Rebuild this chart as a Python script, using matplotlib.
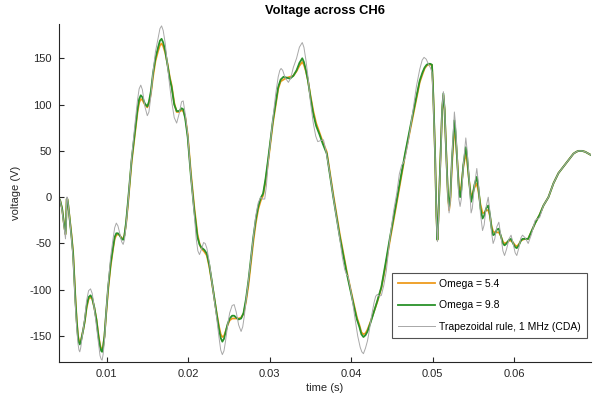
import numpy as np
import matplotlib
matplotlib.use("Agg")
import matplotlib.pyplot as plt

plt.rcParams['font.family'] = ['Liberation Sans', 'DejaVu Sans']
plt.rcParams['axes.unicode_minus'] = False

# time axis (ms) shared by the two Omega runs
t_ms = [4.06, 4.3, 4.55, 4.8, 4.97, 5.05, 5.12, 5.2, 5.3, 5.5,
        5.7, 5.9, 6.05, 6.2, 6.35, 6.5, 6.62, 6.72, 6.83, 6.95,
        7.15, 7.34, 7.55, 7.8, 8.04, 8.25, 8.5, 8.77, 9.0, 9.2,
        9.35, 9.46, 9.58, 9.75, 9.95, 10.2, 10.5, 10.8, 11.0, 11.2,
        11.4, 11.6, 11.85, 12.04, 12.2, 12.4, 12.65, 13.07, 13.5, 13.8,
        14.0, 14.2, 14.4, 14.7, 15.0, 15.2, 15.45, 15.7, 16.0, 16.33,
        16.55, 16.75, 16.95, 17.2, 17.5, 17.75, 17.98, 18.3, 18.6, 18.9,
        19.2, 19.4, 19.65, 19.95, 20.35, 20.75, 21.15, 21.4, 21.6, 22.0,
        22.3, 22.6, 22.9, 23.2, 23.5, 23.8, 24.0, 24.2, 24.4, 24.6,
        24.85, 25.1, 25.4, 25.65, 25.9, 26.2, 26.5, 26.8, 27.1, 27.4,
        28.0, 28.3, 28.6, 28.9, 29.2, 29.5, 29.8, 30.4, 31.05, 31.35,
        31.7, 32.1, 32.5, 32.9, 33.3, 33.65, 34.0, 34.2, 34.45, 34.7,
        35.0, 35.35, 35.7, 36.1, 36.5, 37.0, 37.8, 38.6, 39.45, 40.26,
        40.7, 41.0, 41.25, 41.5, 41.75, 42.0, 42.35, 42.7, 43.2, 43.7,
        44.2, 44.76, 45.4, 46.0, 46.6, 47.4, 48.4, 48.75, 49.0, 49.25,
        49.46, 49.7, 49.9, 50.0, 50.1, 50.28, 50.45, 50.57, 50.68, 50.8,
        50.98, 51.15, 51.3, 51.45, 51.65, 51.85, 52.0, 52.15, 52.35, 52.65,
        52.8, 53.0, 53.2, 53.35, 53.5, 53.75, 54.05, 54.2, 54.45, 54.7,
        54.85, 55.1, 55.4, 55.6, 55.85, 56.1, 56.3, 56.55, 56.8, 57.0,
        57.2, 57.4, 57.6, 57.85, 58.1, 58.35, 58.6, 58.8, 59.05, 59.35,
        59.6, 59.85, 60.1, 60.3, 60.55, 60.8, 61.0, 61.35, 61.7, 62.1,
        62.55, 63.1, 63.57, 64.18, 64.8, 65.41, 66.02, 66.64, 67.25, 67.6,
        67.87, 68.3, 68.69, 69.1, 69.5]

# Omega = 9.8 (green)
v_w98 = [0, -3, -12, -30, -40, -25, -2, -2, -8, -25,
         -42, -61, -88, -114, -135, -151, -157, -159, -157, -152,
         -143, -133, -118, -108, -106, -109, -119, -133, -150, -161,
         -166, -167, -162, -150, -125, -97, -72, -54, -43, -39,
         -39, -41, -45, -46, -41, -27, -3, 40, 72, 95,
         106, 110, 108, 101, 98, 103, 115, 134, 150, 162,
         169, 171, 167, 158, 142, 128, 119, 100, 93, 93,
         96, 95, 85, 65, 22, -14, -43, -51, -54, -57,
         -61, -73, -90, -108, -126, -143, -152, -156, -153, -146,
         -137, -131, -128, -128, -130, -132, -131, -125, -110, -90,
         -43, -24, -10, -1, 4, 20, 40, 83, 119, 127,
         130, 129, 128, 131, 137, 145, 150, 146, 137, 126,
         108, 90, 77, 68, 58, 47, 0, -43, -82, -115,
         -132, -140, -148, -151, -149, -145, -136, -126, -112, -97,
         -72, -43, -12, 18, 47, 83, 126, 135, 140, 143,
         144, 144, 143, 125, 100, 47, -20, -46, -25, 5,
         47, 95, 112, 95, 47, 5, -10, 0, 40, 83,
         70, 40, 8, 0, 8, 35, 54, 45, 18, -5,
         0, 13, 22, 10, -12, -23, -20, -12, -9, -18,
         -33, -41, -40, -35, -34, -42, -50, -52, -50, -46,
         -45, -50, -54, -55, -52, -47, -45, -45, -45, -37,
         -28, -19, -9, 0, 15, 26, 33, 40, 47, 49,
         50, 50, 49, 47, 45]

# Omega = 5.4 (orange)
v_w54 = [0, -3, -12, -30, -40, -25, -2, -2, -8, -24,
         -40, -59, -85, -111, -133, -149, -155, -157, -156, -151,
         -143, -134, -120, -110, -108, -110, -119, -132, -148, -159,
         -164, -165, -161, -150, -127, -100, -75, -56, -45, -41,
         -40, -41, -44, -45, -41, -29, -6, 37, 70, 92,
         102, 106, 105, 100, 97, 101, 112, 130, 147, 158,
         164, 166, 163, 156, 143, 130, 121, 102, 92, 92,
         94, 93, 87, 68, 26, -10, -40, -50, -55, -59,
         -63, -75, -91, -108, -125, -140, -148, -151, -150, -145,
         -138, -133, -131, -131, -131, -131, -130, -126, -113, -95,
         -48, -28, -13, -4, 2, 17, 37, 80, 117, 125,
         127, 129, 130, 131, 136, 142, 146, 143, 136, 126,
         110, 93, 80, 70, 60, 49, 3, -40, -80, -113,
         -130, -138, -146, -148, -147, -143, -135, -126, -113, -98,
         -75, -46, -15, 15, 45, 80, 124, 133, 139, 142,
         143, 143, 143, 125, 100, 47, -20, -46, -25, 5,
         47, 94, 110, 94, 47, 3, -14, -4, 35, 75,
         64, 40, 12, 7, 12, 33, 47, 40, 18, 0,
         3, 10, 15, 6, -8, -17, -17, -14, -14, -20,
         -31, -37, -38, -38, -38, -42, -48, -50, -49, -47,
         -47, -49, -52, -53, -51, -47, -46, -45, -45, -37,
         -28, -19, -9, 0, 15, 26, 33, 40, 47, 49,
         50, 50, 49, 47, 45]

# trapezoidal rule reference, 1 MHz (gray)
tg_ms = [4.06, 4.3, 4.55, 4.8, 4.97, 5.05, 5.12, 5.2, 5.3, 5.5,
         5.7, 5.9, 6.05, 6.2, 6.35, 6.5, 6.62, 6.72, 6.83, 6.95,
         7.15, 7.34, 7.55, 7.8, 8.04, 8.25, 8.5, 8.77, 9.0, 9.2,
         9.35, 9.46, 9.58, 9.75, 9.95, 10.2, 10.5, 10.8, 11.0, 11.2,
         11.4, 11.6, 11.85, 12.04, 12.2, 12.4, 12.65, 13.07, 13.5, 13.8,
         14.0, 14.2, 14.4, 14.7, 15.0, 15.2, 15.45, 15.7, 16.0, 16.33,
         16.55, 16.75, 16.95, 17.2, 17.5, 17.75, 17.98, 18.3, 18.6, 18.9,
         19.2, 19.4, 19.65, 19.95, 20.35, 20.75, 21.0, 21.2, 21.4, 21.65,
         21.9, 22.1, 22.3, 22.6, 22.9, 23.2, 23.5, 23.8, 24.0, 24.2,
         24.4, 24.6, 24.85, 25.1, 25.4, 25.65, 25.9, 26.2, 26.5, 26.7,
         26.9, 27.1, 27.4, 28.0, 28.3, 28.6, 28.9, 29.15, 29.4, 29.6,
         29.8, 30.4, 30.75, 31.05, 31.25, 31.4, 31.6, 31.9, 32.3, 32.6,
         32.9, 33.3, 33.65, 34.0, 34.2, 34.45, 34.7, 35.0, 35.35, 35.65,
         35.9, 36.2, 36.6, 36.9, 37.3, 37.8, 38.6, 38.9, 39.2, 39.45,
         39.6, 39.9, 40.2, 40.5, 40.8, 41.1, 41.3, 41.5, 41.75, 42.0,
         42.2, 42.5, 42.8, 43.0, 43.2, 43.45, 43.7, 44.0, 44.3, 44.76,
         45.2, 45.6, 45.9, 46.2, 46.4, 46.6, 47.0, 47.4, 48.0, 48.4,
         48.7, 48.93, 49.2, 49.5, 49.7, 49.9, 50.0, 50.1, 50.28, 50.45,
         50.57, 50.68, 50.8, 50.98, 51.15, 51.3, 51.45, 51.65, 51.85, 52.0,
         52.15, 52.35, 52.65, 52.8, 53.0, 53.2, 53.35, 53.5, 53.75, 54.05,
         54.2, 54.45, 54.7, 54.85, 55.1, 55.4, 55.6, 55.85, 56.1, 56.3,
         56.55, 56.8, 57.0, 57.2, 57.4, 57.6, 57.85, 58.1, 58.35, 58.6,
         58.8, 59.05, 59.35, 59.6, 59.85, 60.1, 60.3, 60.55, 60.8, 61.0,
         61.35, 61.7, 62.1, 62.55, 63.1, 63.57, 64.18, 64.8, 65.41, 66.02,
         66.64, 67.25, 67.6, 67.87, 68.3, 68.69, 69.1, 69.5]

v_trap = [2, -3, -14, -33, -45, -28, 0, 0, -8, -25,
          -44, -65, -92, -120, -142, -158, -165, -167, -163, -155,
          -142, -130, -112, -101, -99, -104, -120, -140, -158, -171,
          -175, -176, -170, -155, -125, -95, -65, -45, -33, -28,
          -31, -38, -48, -51, -46, -30, -5, 42, 80, 105,
          117, 121, 116, 98, 88, 92, 110, 135, 157, 172,
          182, 185, 180, 166, 140, 120, 104, 86, 80, 90,
          103, 104, 90, 68, 22, -18, -45, -58, -62, -56,
          -49, -50, -55, -70, -90, -110, -130, -152, -165, -170,
          -166, -155, -138, -125, -117, -116, -124, -138, -145, -140,
          -128, -112, -90, -43, -20, -6, 0, -2, -2, 12,
          35, 85, 112, 130, 137, 139, 137, 129, 124, 129,
          140, 150, 162, 167, 162, 148, 130, 103, 80, 66,
          60, 61, 62, 50, 30, 0, -45, -64, -78, -84,
          -85, -98, -115, -133, -150, -162, -167, -169, -163, -155,
          -145, -128, -114, -107, -105, -107, -106, -95, -80, -43,
          -15, 5, 25, 35, 37, 42, 60, 83, 120, 138,
          148, 151, 149, 143, 140, 135, 118, 95, 45, -22,
          -48, -27, 5, 45, 97, 114, 97, 45, 0, -17,
          -5, 42, 92, 78, 42, -2, -10, -2, 35, 64,
          52, 20, -17, -12, 12, 31, 15, -18, -36, -30,
          -10, 0, -15, -38, -50, -45, -32, -27, -42, -58,
          -63, -56, -45, -41, -50, -60, -63, -55, -44, -41,
          -44, -50, -40, -25, -22, -9, 0, 15, 26, 33,
          40, 47, 49, 50, 50, 49, 47, 45]

labels = ['Omega = 5.4', 'Omega = 9.8', 'Trapezoidal rule, 1 MHz (CDA)']
xticks = [0.01, 0.02, 0.03, 0.04, 0.05, 0.06]
yticks = [-150, -100, -50, 0, 50, 100, 150]

assert len(t_ms) == len(v_w98) == len(v_w54)
assert len(tg_ms) == len(v_trap)

t = np.array(t_ms) / 1000.0
tg = np.array(tg_ms) / 1000.0

fig = plt.figure(figsize=(6.0, 4.03), dpi=100)
ax = fig.add_axes([0.098, 0.1017, 0.887, 0.8387])

ax.plot(t, v_w54, color='#EE9B1E', lw=1.3, label=labels[0])
ax.plot(t, v_w98, color='#2A922A', lw=1.3, label=labels[1])
ax.plot(tg, v_trap, color='#A8A8A8', lw=0.7, label=labels[2])

ax.set_xlim(0.00415, 0.0694)
ax.set_ylim(-178, 187)
ax.set_xticks(xticks)
ax.set_xticklabels(['0.01', '0.02', '0.03', '0.04', '0.05', '0.06'])
ax.set_yticks(yticks)

for s in ['top', 'right']:
    ax.spines[s].set_visible(False)
for s in ['left', 'bottom']:
    ax.spines[s].set_color('#262626')
    ax.spines[s].set_linewidth(0.8)
ax.tick_params(direction='in', length=3.5, width=0.8, colors='#262626',
               labelsize=8, pad=5)

ax.set_title('Voltage across CH6', fontsize=9.3, fontweight='bold', pad=7)
ax.set_xlabel('time (s)', fontsize=8, color='#262626', labelpad=3)
ax.set_ylabel('voltage (V)', fontsize=8, color='#262626', labelpad=6)

leg = ax.legend(loc='lower right', bbox_to_anchor=(0.992, 0.071), fontsize=7.5,
                frameon=True, fancybox=False, handlelength=3.5, labelspacing=1.1,
                handletextpad=0.4, borderpad=0.6, borderaxespad=0)
leg.get_frame().set_edgecolor('#262626')
leg.get_frame().set_linewidth(0.8)

fig.savefig('out.png', dpi=100)
